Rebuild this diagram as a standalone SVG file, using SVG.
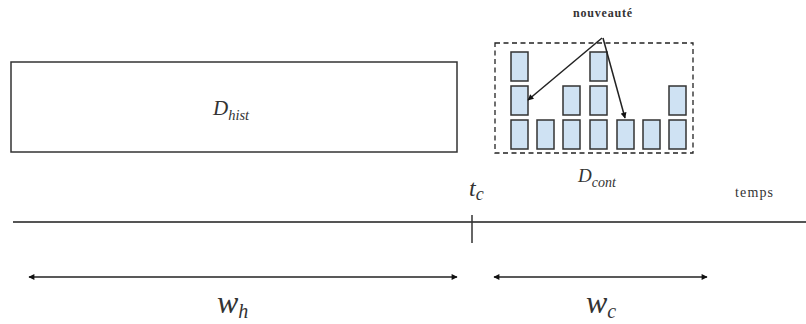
<svg xmlns="http://www.w3.org/2000/svg" width="806" height="324" viewBox="0 0 806 324">
<defs>
<marker id="ah" viewBox="0 0 10 10" refX="9" refY="5" markerWidth="8" markerHeight="6" markerUnits="userSpaceOnUse" orient="auto-start-reverse">
<path d="M0,0 L10,5 L0,10 z" fill="#111"/>
</marker>
<style>
.box{fill:#fff;stroke:#333;stroke-width:1.5}
.bar{fill:#cfe2f3;stroke:#333;stroke-width:1.5}
.dash{fill:none;stroke:#222;stroke-width:1.3;stroke-dasharray:5,3.5}
.ln{stroke:#222;stroke-width:1.5;fill:none}
text{font-family:'Liberation Serif','Times New Roman',serif;fill:#333}
.math{font-style:italic}
</style>
</defs>
<rect width="806" height="324" fill="#fff"/>
<g id="hist">
<rect class="box" x="11" y="62" width="446" height="90"/>
<text class="math" x="213" y="115" font-size="21">D<tspan font-size="14.5" dy="5">hist</tspan></text>
</g>
<g id="cont">
<rect class="dash" x="495" y="43" width="198" height="110"/>
<rect class="bar" x="511" y="52" width="17" height="29"/>
<rect class="bar" x="511" y="86" width="17" height="29"/>
<rect class="bar" x="511" y="120" width="17" height="29"/>
<rect class="bar" x="537" y="120" width="17" height="29"/>
<rect class="bar" x="563" y="86" width="17" height="29"/>
<rect class="bar" x="563" y="120" width="17" height="29"/>
<rect class="bar" x="590" y="52" width="17" height="29"/>
<rect class="bar" x="590" y="86" width="17" height="29"/>
<rect class="bar" x="590" y="120" width="17" height="29"/>
<rect class="bar" x="617" y="120" width="17" height="29"/>
<rect class="bar" x="643" y="120" width="17" height="29"/>
<rect class="bar" x="669" y="86" width="17" height="29"/>
<rect class="bar" x="669" y="120" width="17" height="29"/>
<text class="math" x="578" y="182" font-size="19">D<tspan font-size="14" dy="5">cont</tspan></text>
</g>
<g id="nouveaute">
<text x="573" y="17" font-size="12" font-weight="bold" textLength="59">nouveauté</text>
</g>
<g id="axis">
<line x1="13" y1="222" x2="806" y2="222" stroke="#555" stroke-width="2"/>
<line x1="472" y1="215" x2="472" y2="243" stroke="#333" stroke-width="1.5"/>
<text class="math" x="469" y="196" font-size="24">t<tspan font-size="18" dy="4">c</tspan></text>
<text x="735" y="197" font-size="14" textLength="38">temps</text>
</g>
<g id="connectors">
<line class="ln" x1="602" y1="38" x2="528" y2="100" marker-end="url(#ah)"/>
<line class="ln" x1="603" y1="38" x2="625" y2="118" marker-end="url(#ah)"/>
<line class="ln" x1="29" y1="277" x2="457" y2="277" marker-start="url(#ah)" marker-end="url(#ah)"/>
<line class="ln" x1="494" y1="277" x2="707" y2="277" marker-start="url(#ah)" marker-end="url(#ah)"/>
</g>
<g id="widths">
<text class="math" x="217" y="313" font-size="32">w<tspan font-size="20" dy="5">h</tspan></text>
<text class="math" x="586" y="313" font-size="32">w<tspan font-size="20" dy="5">c</tspan></text>
</g>
</svg>
